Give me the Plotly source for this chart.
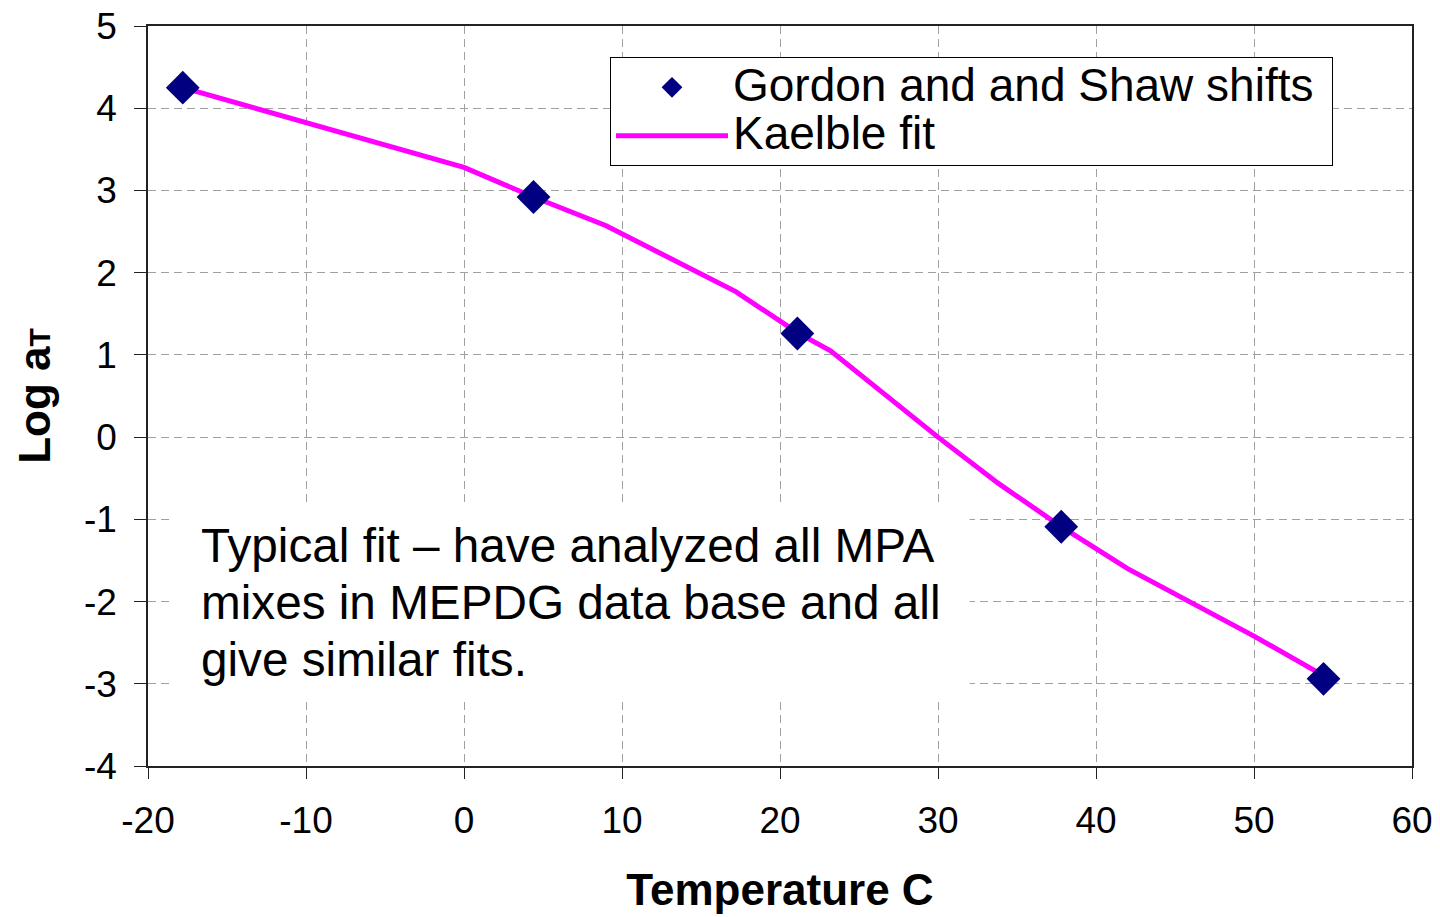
import plotly.graph_objects as go

# Data
shift_temp_c = [-17.8, 4.4, 21.1, 37.8, 54.4]
shift_log_at = [4.25, 2.92, 1.26, -1.09, -2.94]

fit_temp_c = [-17.8, 0.0, 4.4, 9.0, 17.2, 21.1, 23.2, 30.0, 33.8, 37.8, 42.0, 50.0, 54.4]
fit_log_at = [4.25, 3.28, 2.92, 2.57, 1.77, 1.27, 1.05, 0.0, -0.56, -1.09, -1.60, -2.42, -2.90]

x_ticks = [-20, -10, 0, 10, 20, 30, 40, 50, 60]
x_tick_labels = ["-20", "-10", "0", "10", "20", "30", "40", "50", "60"]
y_ticks = [-4, -3, -2, -1, 0, 1, 2, 3, 4, 5]
y_tick_labels = ["-4", "-3", "-2", "-1", "0", "1", "2", "3", "4", "5"]

note_lines = ["Typical fit – have analyzed all MPA",
              "mixes in MEPDG data base and all",
              "give similar fits."]

FONT = "Liberation Sans, Arial, sans-serif"

fig = go.Figure()

fig.add_trace(go.Scatter(
    x=fit_temp_c, y=fit_log_at, mode="lines",
    name="<span style='font-size:46px'>Kaelble fit</span>",
    line=dict(color="#FF00FF", width=5), legendrank=2,
))
fig.add_trace(go.Scatter(
    x=shift_temp_c, y=shift_log_at, mode="markers",
    name="<span style='font-size:46px'>Gordon and and Shaw shifts\u00a0</span>",
    marker=dict(symbol="diamond", size=26, color="#000080"), legendrank=1,
))

# white background behind the note (covers gridlines)
fig.add_shape(type="rect", xref="x", yref="y", x0=-18.5, x1=32.0, y0=-3.21, y1=-0.80,
              fillcolor="white", line=dict(width=0), layer="between")

fig.add_annotation(
    x=-16.75, y=-2.01, xref="x", yref="y", xanchor="left", yanchor="middle",
    text="<br>".join("<span style='font-size:47.7px'>%s</span>" % s for s in note_lines),
    showarrow=False, align="left",
    font=dict(family=FONT, size=44, color="black"),
)

axis_common = dict(
    showgrid=True, gridcolor="#A0A0A0", gridwidth=1, griddash="8px,5px",
    showline=True, linecolor="#222222", linewidth=1.5, mirror=True,
    ticks="outside", tickcolor="#222222", tickwidth=1,
    zeroline=False, automargin=False,
    tickfont=dict(family=FONT, size=37, color="black"),
)

fig.update_xaxes(
    range=[-20, 60], tickvals=x_ticks, ticktext=x_tick_labels, ticklen=11,
    ticklabelstandoff=10, **axis_common,
    title=dict(text="<b>Temperature C</b>", standoff=34,
               font=dict(family=FONT, size=44, color="black")),
)
fig.update_yaxes(
    range=[-4, 5], tickvals=y_ticks, ticktext=y_tick_labels, ticklen=12,
    ticklabelstandoff=10, **axis_common,
    title=dict(text="<b>Log a<span style='font-size:30px'>T</span></b>", standoff=20,
               font=dict(family=FONT, size=44, color="black")),
)

fig.update_layout(
    width=1440, height=917,
    margin=dict(l=148, r=28, t=26, b=151),
    paper_bgcolor="white", plot_bgcolor="white",
    showlegend=True,
    legend=dict(
        x=0.3655, y=0.958, xanchor="left", yanchor="top",
        bgcolor="white", bordercolor="black", borderwidth=1,
        font=dict(family=FONT, size=35, color="black"),
        itemwidth=112, tracegroupgap=0,
    ),
)

fig.write_html("out.html")
